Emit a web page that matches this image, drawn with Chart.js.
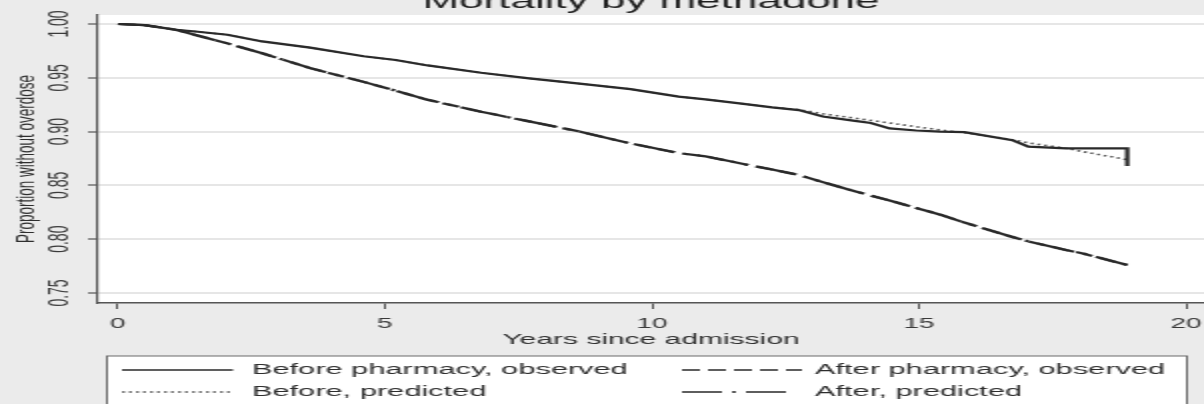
<!DOCTYPE html>
<html>
<head>
<meta charset="utf-8">
<title>Mortality by methadone</title>
<script src="https://cdn.jsdelivr.net/npm/chart.js@4/dist/chart.umd.min.js"></script>
<style>
  html, body { margin: 0; padding: 0; background: #ebebeb; overflow: hidden; }
  #wrap { width: 1204px; height: 404px; overflow: hidden; }
  canvas { display: block; }
</style>
</head>
<body>
<div id="wrap">
  <!-- drawn at half width, shown stretched to the full window width -->
  <canvas id="chart" width="602" height="404" style="width:1204px;height:404px"></canvas>
</div>
<script>
// Survival (proportion without overdose) by years since admission
const beforeObsYears = [0, 0.5, 1.1, 1.45, 2.05, 2.7, 3.6, 4.6, 5.2, 5.8, 6.8, 7.7, 8.6, 9.6, 10.5, 11.0, 11.6, 12.25, 12.75, 13.2, 13.8, 14.1, 14.45, 14.95, 15.4, 15.85, 16.75, 17.05, 17.75, 18.9, 18.9];
const beforeObserved = [1.000, 0.999, 0.9945, 0.993, 0.990, 0.9838, 0.978, 0.970, 0.9665, 0.9615, 0.9547, 0.9495, 0.9448, 0.9395, 0.9325, 0.930, 0.9265, 0.9225, 0.920, 0.914, 0.910, 0.908, 0.903, 0.901, 0.900, 0.8995, 0.892, 0.886, 0.8845, 0.8845, 0.868];

const gridYears = [0, 0.5, 1.1, 1.45, 2.05, 2.7, 3.6, 4.6, 5.2, 5.8, 6.8, 7.7, 8.6, 9.6, 10.5, 11.0, 11.6, 12.25, 12.75, 13.2, 13.8, 14.45, 14.95, 15.4, 15.85, 16.75, 17.05, 17.75, 18.05, 18.9];
const beforePredicted = [1.000, 0.999, 0.9945, 0.993, 0.990, 0.9838, 0.978, 0.970, 0.9665, 0.9615, 0.9547, 0.9495, 0.9448, 0.9395, 0.9325, 0.930, 0.9265, 0.9225, 0.9205, 0.9165, 0.9125, 0.908, 0.9045, 0.9015, 0.899, 0.8925, 0.8895, 0.8845, 0.8815, 0.874];
const afterObserved = [1.000, 0.999, 0.9945, 0.9898, 0.982, 0.9728, 0.959, 0.9462, 0.938, 0.9295, 0.9185, 0.9095, 0.9005, 0.889, 0.880, 0.877, 0.871, 0.8647, 0.8597, 0.853, 0.8445, 0.836, 0.829, 0.8228, 0.8155, 0.802, 0.798, 0.790, 0.787, 0.776];
const afterPredicted = [1.000, 0.999, 0.9945, 0.9898, 0.982, 0.9728, 0.959, 0.9462, 0.938, 0.9295, 0.9185, 0.9095, 0.9005, 0.889, 0.880, 0.877, 0.871, 0.8647, 0.8597, 0.853, 0.8445, 0.836, 0.829, 0.8228, 0.8155, 0.802, 0.798, 0.790, 0.787, 0.776];

const seriesLabels = ['Before pharmacy, observed', 'After pharmacy, observed', 'Before, predicted', 'After, predicted'];
const xTicks = [0, 5, 10, 15, 20];
const yTicks = [0.75, 0.80, 0.85, 0.90, 0.95, 1.00];
const yTickLabels = ['0.75', '0.80', '0.85', '0.90', '0.95', '1.00'];

const FONT = '"Liberation Sans", Arial, Helvetica, sans-serif';
const INK = '#2a2a2a';
const TEXT = '#2e2e2e';

const toPoints = (xs, ys) => xs.map((x, i) => ({ x, y: ys[i] }));

// grey page, white plot region
const panelBackground = {
  id: 'panelBackground',
  beforeDraw(chart) {
    const { ctx, chartArea: a, width, height } = chart;
    ctx.save();
    ctx.fillStyle = '#ebebeb';
    ctx.fillRect(0, 0, width, height);
    ctx.fillStyle = '#ffffff';
    ctx.fillRect(a.left, a.top, a.right - a.left, a.bottom - a.top);
    ctx.restore();
  }
};

// two-column key in a framed box below the axis title
const keyBox = {
  id: 'keyBox',
  afterDraw(chart) {
    const { ctx } = chart;
    const box = { left: 53.5, top: 356, right: 593.5, bottom: 420 };
    ctx.save();
    ctx.fillStyle = '#ffffff';
    ctx.fillRect(box.left, box.top, box.right - box.left, box.bottom - box.top);
    ctx.strokeStyle = '#6a6a6a';
    ctx.lineWidth = 1;
    ctx.strokeRect(box.left, box.top, box.right - box.left, box.bottom - box.top);

    const slots = [
      { ds: 0, x0: 61, x1: 116.5, tx: 126, y: 370 },
      { ds: 1, x0: 341, x1: 401, tx: 407.5, y: 370 },
      { ds: 2, x0: 61, x1: 116.5, tx: 126, y: 392 },
      { ds: 3, x0: 341, x1: 393, tx: 407.5, y: 392 }
    ];
    ctx.font = '15.4px ' + FONT;
    ctx.textBaseline = 'middle';
    ctx.textAlign = 'left';
    slots.forEach(s => {
      const ds = chart.data.datasets[s.ds];
      ctx.beginPath();
      ctx.setLineDash(ds.borderDash || []);
      ctx.lineWidth = 1.6;
      ctx.strokeStyle = ds.borderColor;
      ctx.moveTo(s.x0, s.y);
      ctx.lineTo(s.x1, s.y);
      ctx.stroke();
      ctx.setLineDash([]);
      ctx.fillStyle = TEXT;
      ctx.fillText(ds.label, s.tx, s.y);
    });
    ctx.restore();
  }
};

new Chart(document.getElementById('chart'), {
  type: 'line',
  data: {
    datasets: [
      { label: seriesLabels[0], data: toPoints(beforeObsYears, beforeObserved),
        borderColor: INK, borderWidth: 2.2, borderDash: [], pointRadius: 0, tension: 0 },
      { label: seriesLabels[1], data: toPoints(gridYears, afterObserved),
        borderColor: INK, borderWidth: 2.2, borderDash: [9, 4], pointRadius: 0, tension: 0 },
      { label: seriesLabels[2], data: toPoints(gridYears, beforePredicted),
        borderColor: '#555555', borderWidth: 1.6, borderDash: [1.5, 2], pointRadius: 0, tension: 0 },
      { label: seriesLabels[3], data: toPoints(gridYears, afterPredicted),
        borderColor: INK, borderWidth: 2.2, borderDash: [20, 5, 2, 5], pointRadius: 0, tension: 0 }
    ]
  },
  options: {
    responsive: false,
    devicePixelRatio: 1,
    animation: false,
    layout: { padding: 0 },
    font: { family: FONT },
    plugins: {
      legend: { display: false },
      tooltip: { enabled: false },
      title: {
        display: true,
        text: 'Mortality by methadone',
        fullSize: false,
        color: '#1e1e1e',
        font: { family: FONT, size: 22, weight: 'normal' },
        padding: { top: -10.9, bottom: -0.5 }
      }
    },
    scales: {
      x: {
        type: 'linear',
        position: 'bottom',
        min: -0.3745,
        max: 20.337,
        afterBuildTicks: s => { s.ticks = xTicks.map(v => ({ value: v })); },
        afterFit: s => { s.height = 101; s.paddingLeft = 0; s.paddingRight = 0; },
        ticks: {
          autoSkip: false, maxRotation: 0, padding: 6.6,
          color: '#3a3a3a', font: { family: FONT, size: 14 },
          callback: v => String(v)
        },
        grid: { drawOnChartArea: false, drawTicks: true, tickLength: 6, tickColor: '#555555', tickWidth: 1 },
        border: { display: true, color: '#555555', width: 1.5 },
        title: {
          display: true, text: 'Years since admission', color: TEXT,
          font: { family: FONT, size: 15 }, padding: { top: 0, bottom: 55 }
        }
      },
      y: {
        type: 'linear',
        min: 0.740706,
        max: 1.008364,
        afterBuildTicks: s => { s.ticks = yTicks.map(v => ({ value: v })); },
        afterFit: s => { s.width = 49; s.paddingTop = 0; s.paddingBottom = 0; },
        ticks: {
          autoSkip: false, padding: 0, crossAlign: 'center',
          minRotation: 90, maxRotation: 90,
          color: '#3a3a3a', font: { family: FONT, size: 14 },
          callback: v => yTickLabels[yTicks.indexOf(v)]
        },
        grid: { color: '#e6e6e6', lineWidth: 2, tickColor: '#555555', tickLength: 5, tickWidth: 1.2 },
        border: { display: true, color: '#555555', width: 1.2 },
        title: {
          display: true, text: 'Proportion without overdose', color: TEXT,
          font: { family: FONT, size: 13.5 }, padding: { top: 5, bottom: 0 }
        }
      }
    }
  },
  plugins: [panelBackground, keyBox]
});
</script>
</body>
</html>
